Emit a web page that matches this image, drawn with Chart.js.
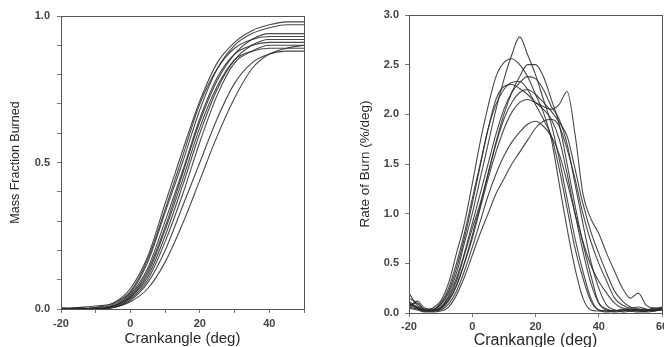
<!DOCTYPE html>
<html>
<head>
<meta charset="utf-8">
<script src="https://cdn.jsdelivr.net/npm/chart.js@4.4.1/dist/chart.umd.min.js"></script>
<style>
  html, body { margin: 0; padding: 0; background: #fff; overflow: hidden; }
  #massCanvas { position: absolute; left: 0; top: 0; }
  #rateCanvas { position: absolute; left: 332px; top: 0; }
</style>
</head>
<body>
<canvas id="massCanvas" width="332" height="347"></canvas>
<canvas id="rateCanvas" width="340" height="347"></canvas>
<script>
// crank angles the curves were read at
const massAngles = [-20, -15, -10, -5, 0, 5, 10, 15, 20, 25, 30, 35, 40, 45, 50];
const rateAngles = [-20, -17.5, -15, -12.5, -10, -7.5, -5, -2.5, 0, 2.5, 5, 7.5, 10, 12.5, 15, 17.5,
  20, 22.5, 25, 27.5, 30, 32.5, 35, 37.5, 40, 42.5, 45, 47.5, 50, 52.5, 55, 57.5, 60];

// mass fraction burned, one array per cycle
const massRuns = [
  [0, 0, 0.005, 0.02, 0.07, 0.18, 0.36, 0.54, 0.71, 0.84, 0.91, 0.95, 0.97, 0.98, 0.98],
  [0, 0.005, 0.01, 0.02, 0.06, 0.17, 0.34, 0.52, 0.70, 0.82, 0.89, 0.92, 0.93, 0.93, 0.93],
  [0, 0, 0, 0.015, 0.055, 0.16, 0.33, 0.50, 0.68, 0.82, 0.90, 0.94, 0.96, 0.97, 0.97],
  [0.005, 0, 0, 0.01, 0.05, 0.14, 0.30, 0.47, 0.65, 0.79, 0.87, 0.90, 0.91, 0.91, 0.91],
  [0, 0, 0.005, 0.01, 0.045, 0.13, 0.28, 0.46, 0.64, 0.78, 0.87, 0.92, 0.94, 0.94, 0.94],
  [0, 0.005, 0, 0.01, 0.04, 0.12, 0.27, 0.44, 0.62, 0.76, 0.85, 0.88, 0.89, 0.89, 0.89],
  [0, 0, 0, 0.01, 0.04, 0.11, 0.25, 0.42, 0.60, 0.75, 0.85, 0.90, 0.92, 0.92, 0.92],
  [0, 0, 0, 0.005, 0.035, 0.10, 0.23, 0.39, 0.57, 0.73, 0.84, 0.88, 0.90, 0.90, 0.90],
  [0, 0, 0, 0.005, 0.03, 0.09, 0.20, 0.35, 0.50, 0.65, 0.77, 0.84, 0.87, 0.88, 0.88],
  [0, 0, 0, 0.005, 0.025, 0.07, 0.16, 0.29, 0.44, 0.59, 0.72, 0.82, 0.87, 0.89, 0.90]
];

// rate of burn (%/deg), one array per cycle
const rateRuns = [
  [0.12, 0.06, 0.02, 0.03, 0.08, 0.2, 0.4, 0.7, 1.0, 1.35, 1.7, 2.05, 2.35, 2.6, 2.78, 2.6,
   2.4, 2.15, 1.9, 1.55, 1.15, 0.75, 0.42, 0.15, 0.03, 0.02, 0.03, 0.01, 0.02, 0.03, 0.02, 0.03, 0.05],
  [0.15, 0.1, 0.03, 0.05, 0.12, 0.3, 0.6, 0.9, 1.3, 1.72, 2.08, 2.38, 2.52, 2.56, 2.5, 2.38,
   2.2, 2.02, 1.75, 1.3, 0.85, 0.45, 0.15, 0.03, 0.02, 0.01, 0.02, 0.03, 0.02, 0.01, 0.02, 0.03, 0.04],
  [0.08, 0.1, 0.03, 0.02, 0.05, 0.15, 0.32, 0.58, 0.85, 1.1, 1.4, 1.72, 2.0, 2.22, 2.38, 2.5,
   2.5, 2.38, 2.15, 1.9, 1.5, 1.08, 0.7, 0.38, 0.1, 0.03, 0.02, 0.04, 0.03, 0.02, 0.03, 0.02, 0.05],
  [0.1, 0.05, 0.02, 0.03, 0.06, 0.17, 0.35, 0.6, 0.9, 1.2, 1.5, 1.8, 2.05, 2.22, 2.32, 2.38,
   2.36, 2.25, 2.08, 1.95, 1.7, 1.3, 0.9, 0.52, 0.25, 0.08, 0.03, 0.02, 0.04, 0.03, 0.02, 0.04, 0.03],
  [0.2, 0.08, 0.04, 0.04, 0.1, 0.25, 0.5, 0.8, 1.15, 1.5, 1.85, 2.1, 2.25, 2.32, 2.33, 2.25,
   2.1, 1.95, 1.78, 1.45, 1.05, 0.65, 0.35, 0.12, 0.03, 0.02, 0.01, 0.02, 0.03, 0.02, 0.01, 0.02, 0.03],
  [0.05, 0.12, 0.05, 0.03, 0.09, 0.22, 0.45, 0.75, 1.1, 1.48, 1.85, 2.15, 2.28, 2.3, 2.26, 2.2,
   2.12, 2.05, 1.95, 1.75, 1.4, 1.0, 0.62, 0.3, 0.1, 0.04, 0.02, 0.03, 0.02, 0.04, 0.03, 0.02, 0.04],
  [0.06, 0.04, 0.02, 0.02, 0.05, 0.13, 0.28, 0.5, 0.75, 1.05, 1.35, 1.62, 1.85, 2.02, 2.12, 2.15,
   2.12, 2.08, 2.05, 2.1, 2.23, 1.8, 1.2, 0.95, 0.8, 0.6, 0.42, 0.25, 0.15, 0.2, 0.08, 0.05, 0.06],
  [0.05, 0.03, 0.01, 0.01, 0.02, 0.06, 0.18, 0.36, 0.58, 0.8, 1.0, 1.2, 1.35, 1.5, 1.62, 1.74,
   1.86, 1.93, 1.95, 1.88, 1.65, 1.35, 1.0, 0.72, 0.5, 0.32, 0.15, 0.08, 0.05, 0.06, 0.04, 0.03, 0.05],
  [0.1, 0.06, 0.03, 0.02, 0.04, 0.12, 0.27, 0.5, 0.78, 1.08, 1.4, 1.7, 1.95, 2.12, 2.22, 2.25,
   2.2, 2.12, 2.03, 1.92, 1.78, 1.45, 1.1, 0.82, 0.6, 0.4, 0.22, 0.12, 0.06, 0.04, 0.03, 0.05, 0.04],
  [0.08, 0.05, 0.02, 0.02, 0.03, 0.09, 0.22, 0.42, 0.66, 0.92, 1.18, 1.4, 1.58, 1.72, 1.82, 1.9,
   1.93, 1.88, 1.78, 1.6, 1.32, 1.0, 0.72, 0.48, 0.32, 0.2, 0.1, 0.05, 0.04, 0.03, 0.02, 0.04, 0.03]
];

const massXLabelled = [-20, 0, 20, 40];
const massYLabelled = [0, 0.5, 1];

const lineColor = 'rgba(40, 40, 40, 0.85)';
const tickColor = '#444';
const titleColor = '#2a2a2a';
const fontFamily = '"Liberation Sans", Arial, sans-serif';
const tickFont = { family: fontFamily, size: 11, weight: 'bold' };

const frame = {
  id: 'frame',
  afterDatasetsDraw(chart) {
    const { ctx, chartArea: a } = chart;
    ctx.save();
    ctx.strokeStyle = '#555';
    ctx.lineWidth = 1;
    ctx.strokeRect(Math.round(a.left) + 0.5, Math.round(a.top) + 0.5,
      Math.round(a.right - a.left), Math.round(a.bottom - a.top));
    ctx.restore();
  }
};

function makeSets(angles, runs) {
  return runs.map(vals => ({
    data: angles.map((x, i) => ({ x: x, y: vals[i] })),
    borderColor: lineColor,
    borderWidth: 1.1,
    pointRadius: 0,
    fill: false,
    cubicInterpolationMode: 'monotone'
  }));
}

const baseOptions = {
  responsive: false,
  animation: false,
  plugins: { legend: { display: false }, tooltip: { enabled: false } }
};

// left: mass fraction burned
new Chart(document.getElementById('massCanvas').getContext('2d'), {
  type: 'line',
  data: { datasets: makeSets(massAngles, massRuns) },
  options: {
    ...baseOptions,
    layout: { padding: { top: 16, right: 28, left: 0, bottom: 0 } },
    scales: {
      x: {
        type: 'linear', min: -20, max: 50,
        afterFit: s => { s.height = 38; },
        border: { display: false },
        grid: { drawOnChartArea: false, tickLength: 4, color: '#777' },
        ticks: {
          stepSize: 10, autoSkip: false, maxRotation: 0, padding: 4,
          color: tickColor, font: tickFont,
          callback: v => massXLabelled.includes(v) ? String(v) : ''
        },
        title: {
          display: true, text: 'Crankangle (deg)', color: titleColor,
          font: { family: fontFamily, size: 15 }, padding: { top: 0, bottom: -1 }
        }
      },
      y: {
        min: 0, max: 1,
        afterFit: s => { s.width = 61; },
        border: { display: false },
        grid: { drawOnChartArea: false, tickLength: 4, color: '#777' },
        ticks: {
          stepSize: 0.1, autoSkip: false, padding: 7,
          color: tickColor, font: tickFont,
          callback: v => {
            const r = Math.round(v * 10) / 10;
            return massYLabelled.includes(r) ? r.toFixed(1) : '';
          }
        },
        title: {
          display: true, text: 'Mass Fraction Burned', color: titleColor,
          font: { family: fontFamily, size: 12.5 }, padding: { top: 8, bottom: 0 }
        }
      }
    }
  },
  plugins: [frame]
});

// right: rate of burn
new Chart(document.getElementById('rateCanvas').getContext('2d'), {
  type: 'line',
  data: { datasets: makeSets(rateAngles, rateRuns) },
  options: {
    ...baseOptions,
    layout: { padding: { top: 15, right: 10, left: 0, bottom: 0 } },
    scales: {
      x: {
        type: 'linear', min: -20, max: 60,
        afterFit: s => { s.height = 34; },
        border: { display: false },
        grid: { drawOnChartArea: false, tickLength: 4, color: '#777' },
        ticks: {
          stepSize: 20, autoSkip: false, maxRotation: 0, padding: 3,
          color: tickColor, font: tickFont
        },
        title: {
          display: true, text: 'Crankangle (deg)', color: titleColor,
          font: { family: fontFamily, size: 16 }, padding: { top: 0, bottom: -3 }
        }
      },
      y: {
        min: 0, max: 3,
        afterFit: s => { s.width = 77; },
        border: { display: false },
        grid: { drawOnChartArea: false, tickLength: 4, color: '#777' },
        ticks: {
          stepSize: 0.5, autoSkip: false, padding: 6,
          color: tickColor, font: tickFont,
          callback: v => v.toFixed(1)
        },
        title: {
          display: true, text: 'Rate of Burn (%/deg)', color: titleColor,
          font: { family: fontFamily, size: 13.5 }, padding: { top: 25, bottom: 0 }
        }
      }
    }
  },
  plugins: [frame]
});
</script>
</body>
</html>
